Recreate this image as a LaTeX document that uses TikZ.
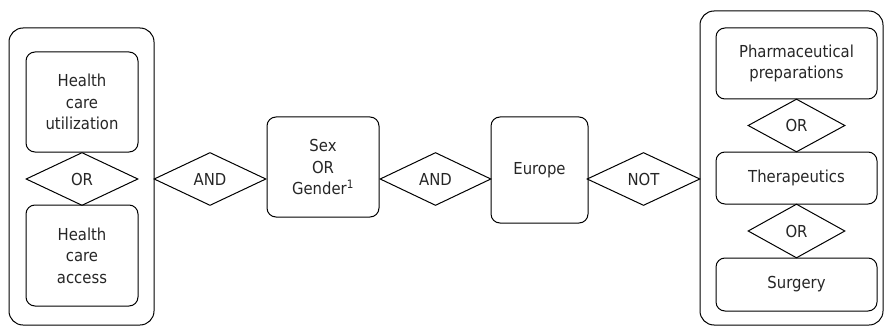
\documentclass[tikz,border=0pt]{standalone}
\usepackage{fontspec}
\setmainfont{DejaVu Sans Condensed}
\usepackage{tikz}
\usetikzlibrary{shapes.geometric,positioning}

\begin{document}
\begin{tikzpicture}[
    x=1pt, y=-1pt,
    font=\fontsize{16.5}{21.5}\selectfont,
    every node/.style={text=black!85},
    grp/.style={rectangle, draw, line width=1pt, rounded corners=14pt, inner sep=0pt},
    term/.style={rectangle, draw, line width=1pt, rounded corners=9pt, align=center, inner sep=0pt},
    gate/.style={diamond, draw, line width=1pt, inner sep=0pt, align=center}
]
    \useasboundingbox (0,0) rectangle (885,326);

    % left group
    \node [grp, minimum width=145pt, minimum height=297pt] (g1) at (81.5,176.5) {};
    \node [term, minimum width=112pt, minimum height=100pt] (hcu) at (82,102) {Health\\care\\utilization};
    \node [gate, minimum width=112pt, minimum height=53pt] (or1) at (82,179) {OR};
    \node [term, minimum width=112pt, minimum height=101pt] (hca) at (82,255.5) {Health\\care\\access};

    % middle chain
    \node [gate, minimum width=112pt, minimum height=53pt] (and1) at (210,179) {AND};
    \node [term, minimum width=112pt, minimum height=100pt] (sex) at (323,167) {Sex\\OR\\Gender\textsuperscript{1}};
    \node [gate, minimum width=111pt, minimum height=53pt] (and2) at (435.5,179) {AND};
    \node [term, minimum width=97pt, minimum height=106pt] (eur) at (539.5,170) {Europe};
    \node [gate, minimum width=113pt, minimum height=53pt] (not) at (643.5,179) {NOT};

    % right group
    \node [grp, minimum width=183pt, minimum height=314pt] (g2) at (791.5,168) {};
    \node [term, minimum width=161pt, minimum height=71pt] (pharm) at (796.5,63.5) {Pharmaceutical\\preparations};
    \node [gate, minimum width=97pt, minimum height=53pt] (or2) at (796.5,125.5) {OR};
    \node [term, minimum width=161pt, minimum height=52pt] (ther) at (796.5,178) {Therapeutics};
    \node [gate, minimum width=97pt, minimum height=54pt] (or3) at (796.5,231) {OR};
    \node [term, minimum width=161pt, minimum height=53pt] (surg) at (796.5,284.5) {Surgery};
\end{tikzpicture}
\end{document}
